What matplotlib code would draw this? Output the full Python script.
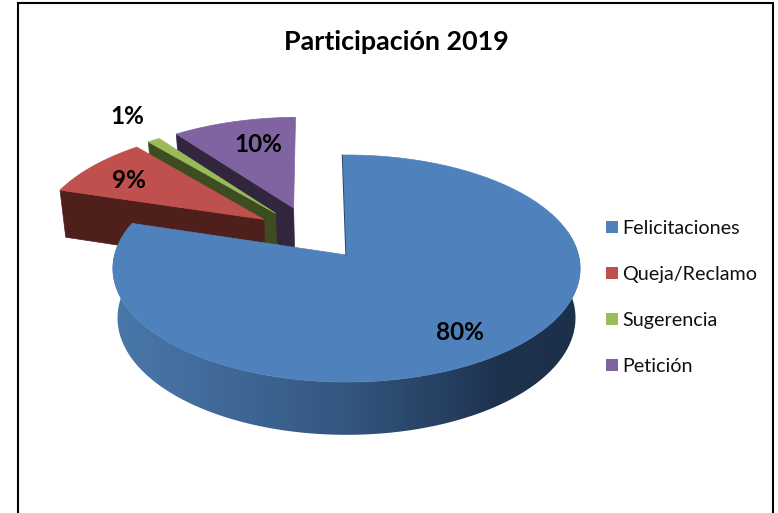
import numpy as np
import matplotlib
matplotlib.use("Agg")
import matplotlib.pyplot as plt
from matplotlib.colors import LinearSegmentedColormap
from matplotlib.patches import Polygon, Patch

plt.rcParams['font.family'] = ['Lato', 'DejaVu Sans']

# data
categories = ['Felicitaciones', 'Queja/Reclamo', 'Sugerencia', 'Petición']
values = [80, 9, 1, 10]
title = 'Participación 2019'

# styles
top_colors = ['#4F81BD', '#C0504D', '#9BBB59', '#8064A2']
side_colors = ['#2c4a70', '#4F1F1C', '#3E4C22', '#32263F']
offsets = [(0.0, 0.0), (-0.37, 0.33), (-0.32, 0.39), (-0.24, 0.442)]
label_pos = [(460, 332), (129, 180), (127, 117), (258, 145)]
START_ANGLE = 91

# perspective parameters (pixel axes)
X0, Y0, A, B, P = 346.5, 255.0, 232.0, 111.9, 0.119
DEPTH, KX, KY = 49.0, 0.98, 1.03


def project(x, y, bottom=False):
    w = 1 + P * y
    if bottom:
        return X0 + KX * A * x / w, Y0 + DEPTH - KY * B * y / w
    return X0 + A * x / w, Y0 - B * y / w


fig = plt.figure(figsize=(7.78, 5.13), dpi=100)
ax = fig.add_axes([0, 0, 1, 1])
ax.set_xlim(0, 778)
ax.set_ylim(513, 0)
ax.axis('off')

# frame (no bottom edge)
ax.plot([17.7, 17.7, 773.5, 773.5], [513, 3, 3, 513], color='black', lw=1.5, solid_joinstyle='miter')

# wedge angles: clockwise from 12 o'clock
fracs = np.array(values, dtype=float) / sum(values)
ends = START_ANGLE - 360 * np.cumsum(fracs)
starts = np.r_[START_ANGLE, ends[:-1]]


def top_outline(i):
    ox, oy = offsets[i]
    th = np.radians(np.linspace(starts[i], ends[i], 200))
    xs = np.r_[ox, ox + np.cos(th)]
    ys = np.r_[oy, oy + np.sin(th)]
    return xs, ys


# exploded wedges, back to front
for i in [3, 2, 1]:
    ox, oy = offsets[i]
    # visible cut face: from the apex to the rim at the wedge's start angle
    t = np.radians(starts[i])
    s = np.linspace(0, 1, 2)
    xe = ox + np.cos(t) * s
    ye = oy + np.sin(t) * s
    tx, ty = project(xe, ye)
    bx, by = project(xe, ye, bottom=True)
    ax.add_patch(Polygon(np.c_[np.r_[tx, bx[::-1]], np.r_[ty, by[::-1]]],
                         closed=True, fc=side_colors[i], ec=side_colors[i], lw=0.5, zorder=2 + (3 - i)))
    xs, ys = top_outline(i)
    px, py = project(xs, ys)
    ax.add_patch(Polygon(np.c_[px, py], closed=True, fc=top_colors[i], ec=top_colors[i],
                         lw=0.5, zorder=2 + (3 - i)))

# main wedge side with horizontal gradient
th = np.radians(np.linspace(168, 372, 300))
tx, ty = project(np.cos(th), np.sin(th))
bx, by = project(np.cos(th), np.sin(th), bottom=True)
side = Polygon(np.c_[np.r_[tx, bx[::-1]], np.r_[ty, by[::-1]]], closed=True,
               fc='none', ec='none', zorder=6)
ax.add_patch(side)
cmap = LinearSegmentedColormap.from_list('side', [(0, '#4A78AA'), (0.15, '#446FA0'), (0.5, '#34567F'),
                                                  (0.72, '#253E5F'), (0.82, '#1E324E'), (1, '#1D304A')])
img = ax.imshow(np.linspace(0, 1, 256)[None, :], extent=(110, 585, 513, 0), cmap=cmap,
                aspect='auto', zorder=6)
img.set_clip_path(side)
ax.set_xlim(0, 778)
ax.set_ylim(513, 0)

# main wedge top face
xs, ys = top_outline(0)
px, py = project(xs, ys)
ax.add_patch(Polygon(np.c_[px, py], closed=True, fc=top_colors[0], ec=top_colors[0], lw=0.5, zorder=7))
ax.plot(px[[0, 1]] - 0.6, py[[0, 1]], color='#2c4a70', lw=0.8, zorder=7.5)

# data labels
for v, (lx, ly) in zip(values, label_pos):
    ax.text(lx, ly, f'{v}%', ha='center', va='center', fontsize=17.5, fontweight='bold',
            color='black', zorder=10)

# title
ax.text(396, 42, title, ha='center', va='center', fontsize=19.4, fontweight='bold', color='black', zorder=10)

# legend
handles = [Patch(fc=c, ec=c, lw=0) for c in top_colors]
leg = ax.legend(handles, categories, loc='center left', bbox_to_anchor=(606, 297.5),
                bbox_transform=ax.transData, frameon=False, fontsize=14.2,
                handlelength=0.62, handleheight=0.62, handletextpad=0.22,
                labelspacing=1.47, borderpad=0, borderaxespad=0)
for t in leg.get_texts():
    t.set_color('#111111')

fig.savefig('out.png', dpi=100, facecolor='white')
